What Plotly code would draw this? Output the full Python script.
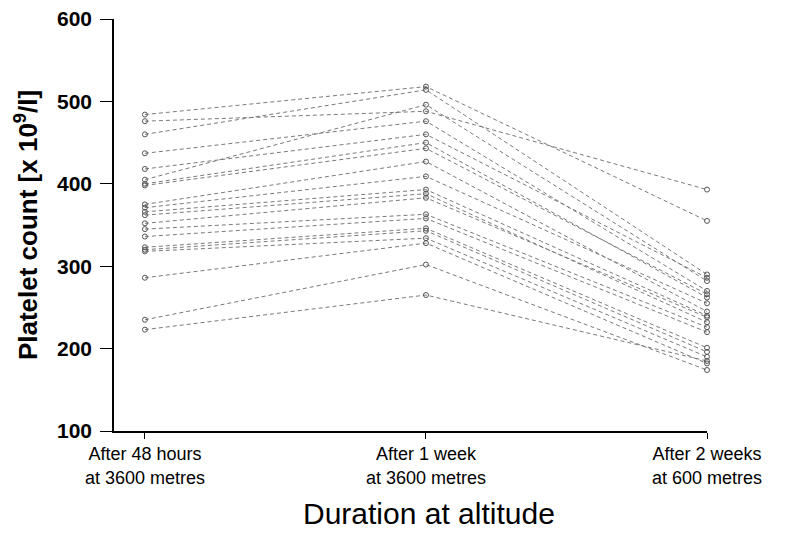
import plotly.graph_objects as go

categories = ["After 48 hours<br>at 3600 metres", "After 1 week<br>at 3600 metres", "After 2 weeks<br>at 600 metres"]
x_title = "Duration at altitude"
y_title = "<b>Platelet count [x 10<sup>9</sup>/l]</b>"
y_ticks = [100, 200, 300, 400, 500, 600]

after_48h = [484, 476, 460, 437, 418, 405, 400, 398, 375, 371, 366, 362, 352, 345, 336, 323, 320, 318, 286, 235, 223]
after_1wk = [518, 488, 514, 476, 460, 496, 450, 443, 427, 409, 393, 388, 383, 363, 358, 346, 343, 334, 328, 302, 265]
after_2wk = [355, 393, 290, 270, 286, 282, 262, 266, 245, 255, 240, 232, 238, 226, 220, 201, 196, 190, 182, 174, 185]

x_index = list(range(len(categories)))

fig = go.Figure()
for a, b, c in zip(after_48h, after_1wk, after_2wk):
    fig.add_trace(go.Scatter(
        x=x_index, y=[a, b, c], mode="lines+markers",
        line=dict(color="#7a7a7a", width=1, dash="4px,3px"),
        marker=dict(symbol="circle-open", size=5, color="#555555", line=dict(width=1)),
        cliponaxis=False, showlegend=False, hoverinfo="y"))

fig.add_annotation(text=x_title, xref="paper", yref="paper", x=0.531, y=-0.2,
                   xanchor="center", yanchor="middle", showarrow=False,
                   font=dict(size=30, family="Liberation Sans, Arial, sans-serif", color="black"))

fig.update_layout(
    width=769, height=532,
    margin=dict(l=106, r=70, t=11, b=109),
    paper_bgcolor="white", plot_bgcolor="white",
    font=dict(family="Liberation Sans, Arial, sans-serif", color="black"),
    xaxis=dict(range=[-0.11, 2], tickvals=x_index, ticktext=categories,
               automargin=False,
               showgrid=False, zeroline=False, showline=True, linecolor="black", linewidth=1.5,
               ticks="outside", ticklen=6, tickcolor="black", ticklabeloverflow="allow",
               tickfont=dict(size=18)),
    yaxis=dict(range=[100, 600], tickvals=y_ticks,
               automargin=False,
               showgrid=False, zeroline=False, showline=True, linecolor="black", linewidth=1.5,
               ticks="outside", ticklen=12, tickcolor="black", ticklabelstandoff=4,
               ticklabeloverflow="allow",
               tickfont=dict(size=21, family="Liberation Sans, Arial, sans-serif", weight="bold"),
               title=dict(text=y_title, font=dict(size=26), standoff=12)),
)

fig.write_html("out.html")
